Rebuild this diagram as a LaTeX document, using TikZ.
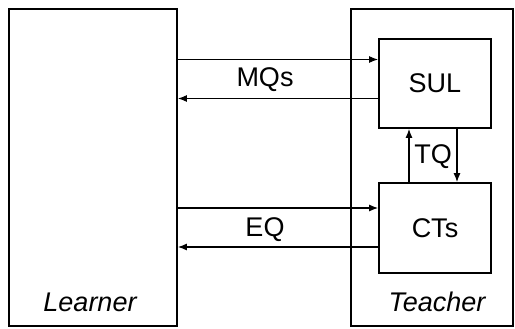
\documentclass[tikz,border=0pt]{standalone}
\usepackage{fontspec}
\setmainfont{Liberation Sans}
\usetikzlibrary{positioning, arrows.meta, calc}

\begin{document}
\begin{tikzpicture}[x=1pt, y=-1pt, >={Latex[length=9pt, width=7pt]},
    font=\fontsize{27}{32}\selectfont,
    box/.style={draw, line width=1.8pt, inner sep=0pt},
    link/.style={->, line width=1.1pt}]
    \useasboundingbox (0,0) rectangle (515,329);

    \node[box, minimum width=168pt, minimum height=317pt] (learner) at (93,167.5) {};
    \node[box, minimum width=162pt, minimum height=317pt] (teacher) at (432,167.5) {};
    \node[box, minimum width=112pt, minimum height=89pt] (sul) at (435,83.5) {SUL};
    \node[box, minimum width=112pt, minimum height=90pt] (cts) at (435,228) {CTs};
    \node[font=\fontsize{27}{32}\selectfont\itshape] (lname) at (90,302) {Learner};
    \node[font=\fontsize{27}{32}\selectfont\itshape] (tname) at (437,302) {Teacher};

    % membership queries
    \coordinate (mqin) at ([yshift=24pt]sul.west);
    \coordinate (mqout) at ([yshift=-15pt]sul.west);
    \draw[link] (mqin -| learner.east) -- (mqin);
    \draw[link] (mqout) -- (mqout -| learner.east);
    \node (mq) at (265,80) {MQs};

    % equivalence queries
    \coordinate (eqin) at ([yshift=20pt]cts.west);
    \coordinate (eqout) at ([yshift=-19pt]cts.west);
    \draw[link] (eqin -| learner.east) -- (eqin);
    \draw[link] (eqout) -- (eqout -| learner.east);
    \node (eq) at (265,230) {EQ};

    % test queries
    \coordinate (tqup) at ([xshift=-26pt]cts.north);
    \coordinate (tqdown) at ([xshift=22pt]sul.south);
    \draw[link] (tqup) -- (tqup |- sul.south);
    \draw[link] (tqdown) -- (tqdown |- cts.north);
    \node (tq) at (433,157) {TQ};
\end{tikzpicture}
\end{document}
